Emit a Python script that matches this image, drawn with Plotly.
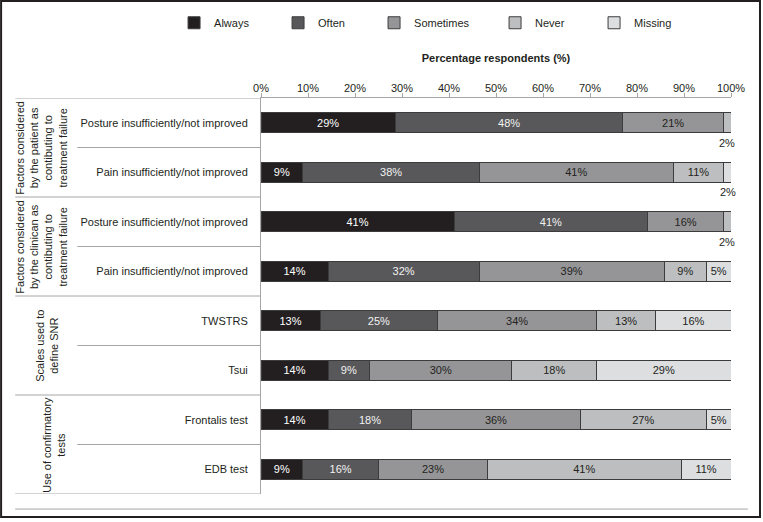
import plotly.graph_objects as go

# rows, top to bottom
row_labels = [
    "Posture insufficiently/not improved",
    "Pain insufficiently/not improved",
    "Posture insufficiently/not improved",
    "Pain insufficiently/not improved",
    "TWSTRS",
    "Tsui",
    "Frontalis test",
    "EDB test",
]
group_labels = [
    "Factors considered<br>by the patient as<br>contibuting to<br>treatment failure",
    "Factors considered<br>by the clinican as<br>contibuting to<br>treatment failure",
    "Scales used to<br>define SNR",
    "Use of confirmatory<br>tests",
]
group_rows = [0.5, 2.5, 4.5, 6.5]
x_ticks = [0, 10, 20, 30, 40, 50, 60, 70, 80, 90, 100]
x_ticktext = ["0%", "10%", "20%", "30%", "40%", "50%", "60%", "70%", "80%", "90%", "100%"]

always = [28.6, 8.9, 41.1, 14.3, 12.6, 14.3, 14.3, 8.9]
often = [48.4, 37.6, 41.2, 32.1, 25.0, 8.8, 17.8, 16.1]
sometimes = [21.4, 41.2, 16.1, 39.4, 33.8, 30.3, 35.8, 23.2]
never = [1.6, 10.8, 1.6, 9.0, 12.6, 18.0, 26.9, 41.2]
missing = [0, 1.6, 0, 5.2, 16.0, 28.6, 5.2, 10.6]

series = [
    ("Always", always, "#231f20", "#ffffff", 59),
    ("Often", often, "#58585a", "#f2f2f2", 51),
    ("Sometimes", sometimes, "#959597", "#231f20", 76),
    ("Never", never, "#bdbec0", "#231f20", 54),
    ("Missing", missing, "#dddee0", "#231f20", 40),
]

FONT = "Liberation Sans, Arial, sans-serif"
TXT = "#231f20"
GRID = "#a6a6a6"

rows = list(range(len(row_labels)))
fig = go.Figure()
for name, vals, color, tcolor, lw in series:
    fig.add_trace(go.Bar(
        y=rows, x=vals, orientation="h", name=name, width=0.4,
        marker=dict(color=color, line=dict(color="#3c3c3c", width=1)),
        text=[f"{v:.0f}%" if v >= 3 else "" for v in vals],
        textposition="inside", insidetextanchor="middle", textangle=0,
        textfont=dict(color=tcolor, size=11, family=FONT),
        legendwidth=lw,
    ))

# labels for the thin segments, placed under the bar
annotations = []
for r in rows:
    start = 0
    for name, vals, *_ in series:
        v = vals[r]
        if 0 < v < 3:
            annotations.append(dict(x=start + v / 2, y=r, text=f"{v:.0f}%", showarrow=False,
                                    yshift=-20, font=dict(size=11, color=TXT, family=FONT)))
        start += v

# group labels (rotated)
group_x = [-0.405, -0.405, -0.425, -0.41]
for txt, gy, gx in zip(group_labels, group_rows, group_x):
    annotations.append(dict(x=gx, xref="paper", y=gy, yref="y", text=txt, showarrow=False,
                            textangle=-90, xanchor="right", yanchor="middle",
                            font=dict(size=11, color=TXT, family=FONT)))

shapes = []
# group separators
for b in [-0.5, 1.5, 3.5, 5.5, 7.5]:
    shapes.append(dict(type="line", xref="paper", yref="y", x0=-0.523, x1=0, y0=b, y1=b,
                       line=dict(color=GRID, width=1)))
# row separators
for b in [0.5, 2.5, 4.5, 6.5]:
    shapes.append(dict(type="line", xref="paper", yref="y", x0=-0.391, x1=0, y0=b, y1=b,
                       line=dict(color=GRID, width=1)))
# bottom rule
shapes.append(dict(type="line", xref="paper", yref="paper", x0=-0.523, x1=1.036, y0=-0.038, y1=-0.038,
                   line=dict(color=GRID, width=1)))
# outer frame
shapes.append(dict(type="rect", xref="paper", yref="paper", x0=-0.553, x1=1.0617, y0=-0.058, y1=1.2449,
                   line=dict(color="#231f20", width=2)))

fig.update_layout(
    width=763, height=522,
    margin=dict(l=261, r=32, t=98, b=28, autoexpand=False),
    barmode="stack",
    paper_bgcolor="white", plot_bgcolor="white",
    font=dict(family=FONT, size=11, color=TXT),
    uniformtext=dict(minsize=11, mode="show"),
    showlegend=True,
    legend=dict(orientation="h", x=-0.185, xanchor="left", y=1.19, yanchor="middle",
                font=dict(size=11, color=TXT, family=FONT), traceorder="normal"),
    annotations=annotations,
    shapes=shapes,
)
fig.update_xaxes(
    side="top", range=[0, 100], tickvals=x_ticks, ticktext=x_ticktext,
    showgrid=False, zeroline=False, showline=True, linecolor=GRID, linewidth=1,
    ticks="outside", ticklen=4, tickcolor=GRID, automargin=False, ticklabelstandoff=-3,
    title=dict(text="<b>Percentage respondents (%)</b>", standoff=16,
               font=dict(size=11, color=TXT, family=FONT)),
)
fig.update_yaxes(
    range=[7.5, -0.5], tickvals=rows, ticktext=row_labels,
    showgrid=False, zeroline=False, showline=True, linecolor=GRID, linewidth=1,
    ticks="", ticklabelstandoff=10, automargin=False,
)

# page body has a default margin; remove it so the figure sits at the window corner
fig.write_html("out.html", config={"displayModeBar": False},
               post_script="document.body.style.margin='0';")
